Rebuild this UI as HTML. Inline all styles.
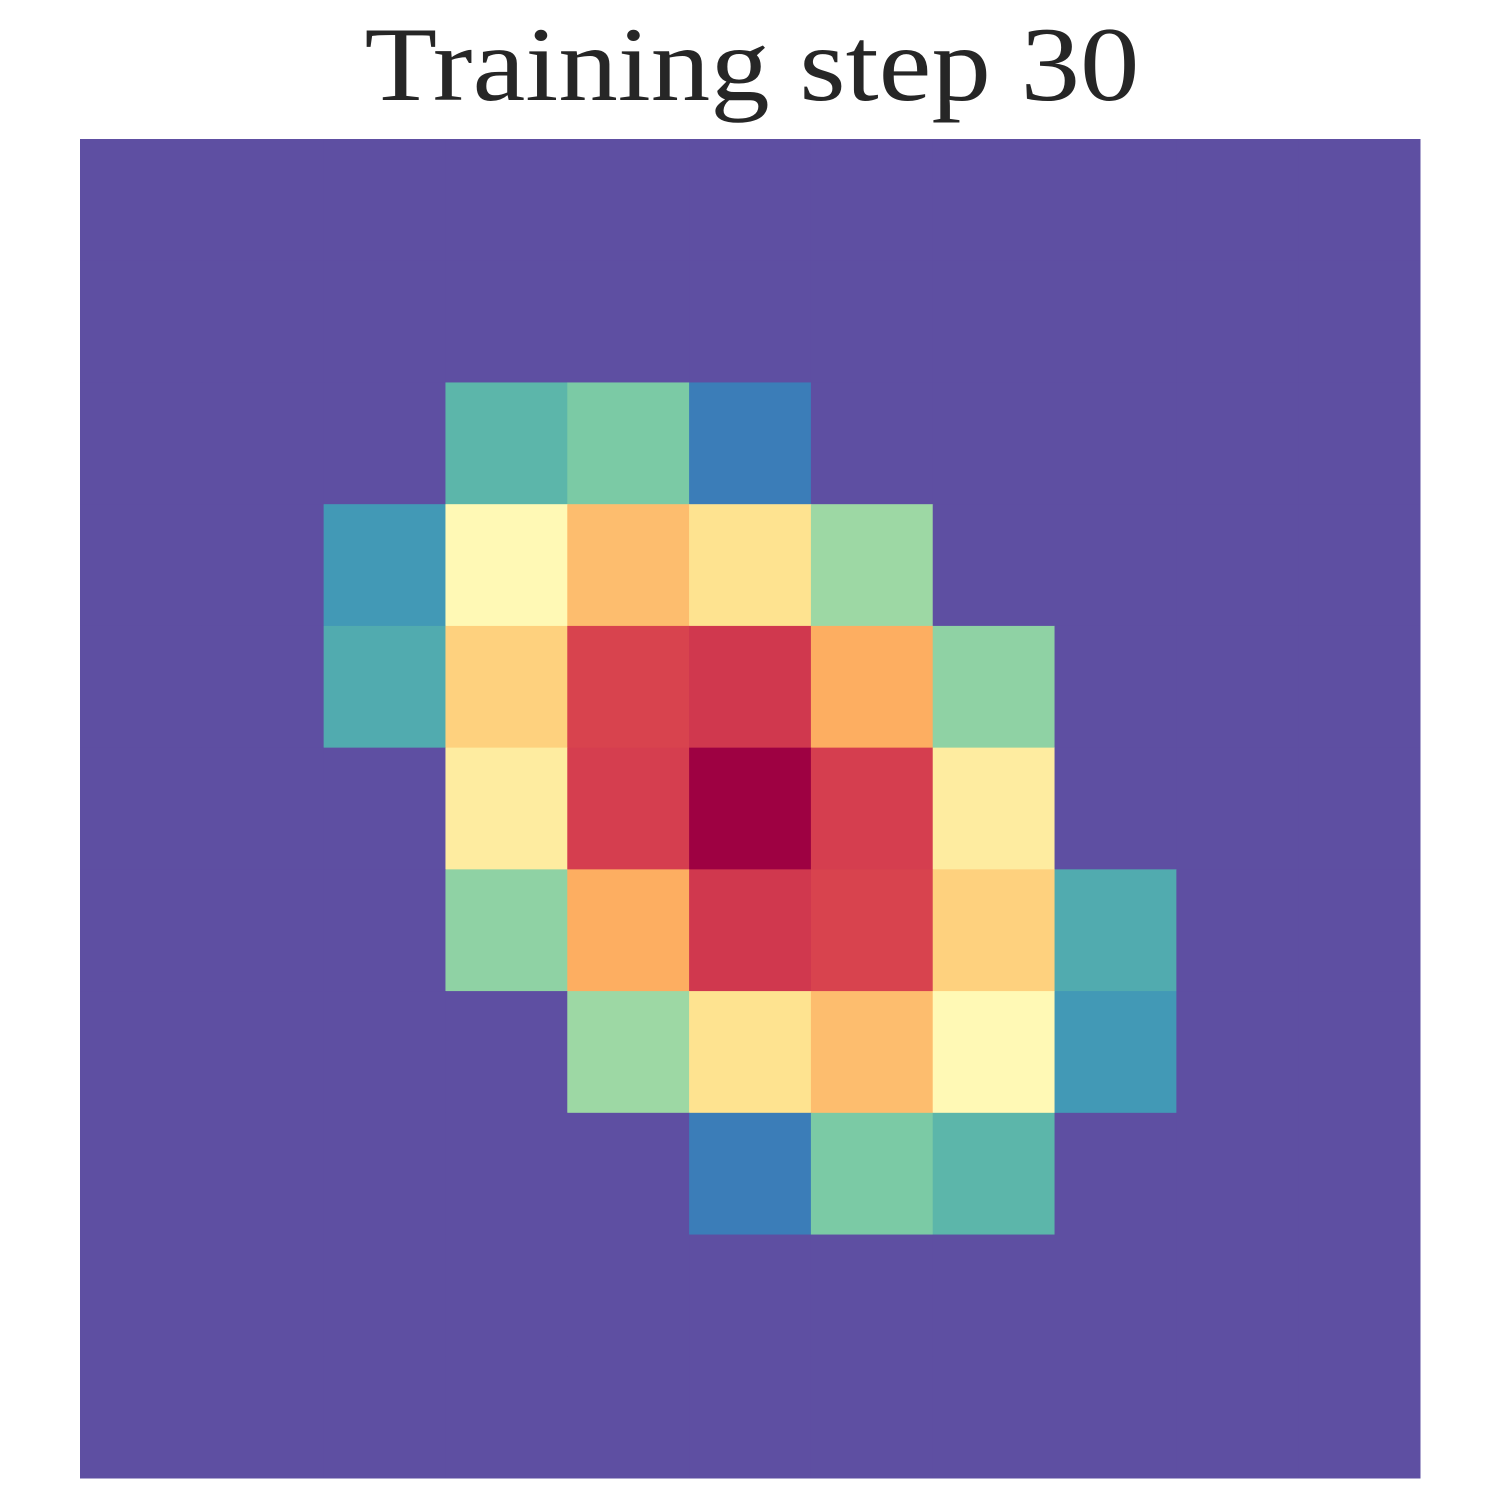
<!DOCTYPE html>
<html>
<head>
<meta charset="utf-8">
<style>
html,body{margin:0;padding:0;background:#fff;}
svg{display:block;}
</style>
</head>
<body>
<svg id="chart" width="1500" height="1500" viewBox="0 0 1500 1500" xmlns="http://www.w3.org/2000/svg">
  <rect x="0" y="0" width="1500" height="1500" fill="#ffffff"/>
  <text x="752" y="100" text-anchor="middle" textLength="775" lengthAdjust="spacingAndGlyphs" font-family="'Liberation Serif', serif" font-size="106" fill="#262626">Training step 30</text>
  <g id="cells"></g>
</svg>
<script>
const nRows = 11;
const nCols = 11;
const row0 = [0,0,0,0,0,0,0,0,0,0,0];
const row1 = [0,0,0,0,0,0,0,0,0,0,0];
const row2 = [0,0,0,0.18,0.23,0.08,0,0,0,0,0];
const row3 = [0,0,0.13,0.52,0.67,0.59,0.28,0,0,0,0];
const row4 = [0,0,0.16,0.63,0.89,0.91,0.70,0.26,0,0,0];
const row5 = [0,0,0,0.56,0.90,1.0,0.90,0.56,0,0,0];
const row6 = [0,0,0,0.26,0.70,0.91,0.89,0.63,0.16,0,0];
const row7 = [0,0,0,0,0.28,0.59,0.67,0.52,0.13,0,0];
const row8 = [0,0,0,0,0,0.08,0.23,0.18,0,0,0];
const row9 = [0,0,0,0,0,0,0,0,0,0,0];
const row10 = [0,0,0,0,0,0,0,0,0,0,0];
const values = [row0,row1,row2,row3,row4,row5,row6,row7,row8,row9,row10];

const plotLeft = 80, plotTop = 139, plotW = 1340, plotH = 1339;
function xScale(c){ return plotLeft + c * plotW / nCols; }
function yScale(r){ return plotTop + r * plotH / nRows; }

const spectral = ["#9e0142","#d53e4f","#f46d43","#fdae61","#fee08b","#ffffbf","#e6f598","#abdda4","#66c2a5","#3288bd","#5e4fa2"];
function hex(h){ return [parseInt(h.substr(1,2),16),parseInt(h.substr(3,2),16),parseInt(h.substr(5,2),16)]; }
function colorFor(v){
  const s = Math.min(1, Math.max(0, 1 - v)) * 10;
  const i = Math.min(9, Math.floor(s));
  const t = s - i;
  const a = hex(spectral[i]), b = hex(spectral[i+1]);
  const c = a.map((x,k)=>Math.round(x + (b[k]-x)*t));
  return "rgb(" + c.join(",") + ")";
}

const g = document.getElementById("cells");
const NS = "http://www.w3.org/2000/svg";
for (let r = 0; r < nRows; r++) {
  for (let c = 0; c < nCols; c++) {
    const rect = document.createElementNS(NS, "rect");
    const x0 = xScale(c), x1 = xScale(c+1), y0 = yScale(r), y1 = yScale(r+1);
    rect.setAttribute("x", x0);
    rect.setAttribute("y", y0);
    rect.setAttribute("width", x1 - x0 + 0.5);
    rect.setAttribute("height", y1 - y0 + 0.5);
    rect.setAttribute("fill", colorFor(values[r][c]));
    
    
    g.appendChild(rect);
  }
}
</script>
</body>
</html>
